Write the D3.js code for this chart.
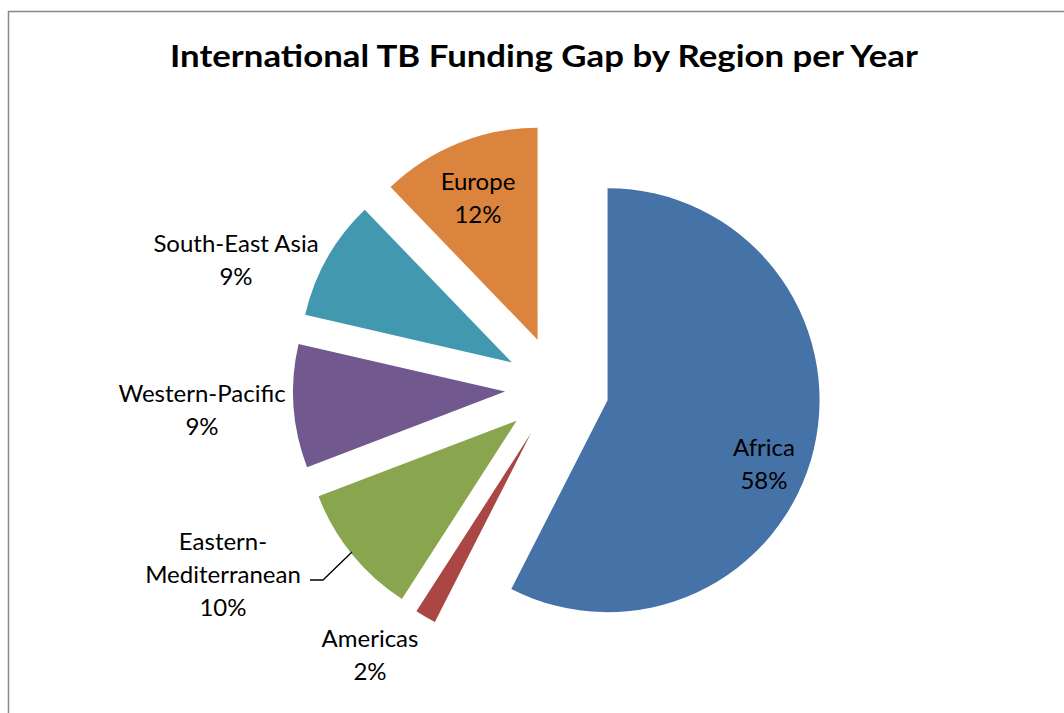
<!DOCTYPE html>
<html>
<head>
<meta charset="utf-8">
<script src="https://cdn.jsdelivr.net/npm/d3@7"></script>
<style>
  body { margin: 0; background: #fff; }
  text { font-family: Lato, "Open Sans", sans-serif; fill: #000; }
</style>
</head>
<body>
<div id="chart"></div>
<script>
// data (shares in percent)
var regions = ["Africa", "Americas", "Eastern-Mediterranean", "Western-Pacific", "South-East Asia", "Europe"]
var shares = [57.5, 1.6, 10.1, 9.4, 9.2, 12.2]
var colors = ["#4572A7", "#AA4643", "#89A54E", "#71588F", "#4198AF", "#DB843D"]

var svgWidth = 1064
var svgHeight = 713

var svg = d3.select("#chart")
  .append("svg")
  .attr("width", svgWidth)
  .attr("height", svgHeight)

// chart border
svg.append("rect")
  .attr("x", 8.5)
  .attr("y", 11.5)
  .attr("width", 1100)
  .attr("height", 800)
  .attr("fill", "none")
  .attr("stroke", "#888")
  .attr("stroke-width", 1.5)

// title
svg.append("text")
  .attr("x", 544)
  .attr("y", 67)
  .attr("text-anchor", "middle")
  .attr("font-size", 30)
  .attr("font-weight", "bold")
  .attr("textLength", 748)
  .attr("lengthAdjust", "spacingAndGlyphs")
  .text("International TB Funding Gap by Region per Year")

var cx = 557, cy = 388
var radius = 212
var explode = 52

var data = regions.map(function(r, i) { return { region: r, value: shares[i], color: colors[i] } })

var pie = d3.pie().sort(null).value(d => d.value)
var arc = d3.arc().innerRadius(0).outerRadius(radius)

var arcs = pie(data)

var pieGroup = svg.append("g")
  .attr("transform", `translate(${cx}, ${cy})`)

pieGroup.selectAll("path")
  .data(arcs)
  .enter()
  .append("path")
  .attr("d", arc)
  .attr("fill", d => d.data.color)
  .attr("transform", function(d) {
    var a = (d.startAngle + d.endAngle) / 2
    return `translate(${Math.sin(a) * explode}, ${-Math.cos(a) * explode})`
  })

// label anchors (center x, first baseline)
var labelPos = {
  "Africa": [764, 456],
  "Americas": [370, 647],
  "Eastern-Mediterranean": [223, 550],
  "Western-Pacific": [202, 402],
  "South-East Asia": [236, 252],
  "Europe": [478, 190]
}
var labelLines = {
  "Eastern-Mediterranean": ["Eastern-", "Mediterranean"]
}

arcs.forEach(function(d) {
  var name = d.data.region
  var lines = (labelLines[name] || [name]).concat([Math.round(d.data.value) + "%"])
  var p = labelPos[name]
  var t = svg.append("text")
    .attr("text-anchor", "middle")
    .attr("font-size", 24)
  lines.forEach(function(l, i) {
    t.append("tspan")
      .attr("x", p[0])
      .attr("y", p[1] + i * 33)
      .text(l)
  })
})

// leader line for Eastern-Mediterranean
svg.append("path")
  .attr("d", "M310,580 L323,580 L352,552")
  .attr("fill", "none")
  .attr("stroke", "#000")
  .attr("stroke-width", 1.3)
</script>
</body>
</html>
